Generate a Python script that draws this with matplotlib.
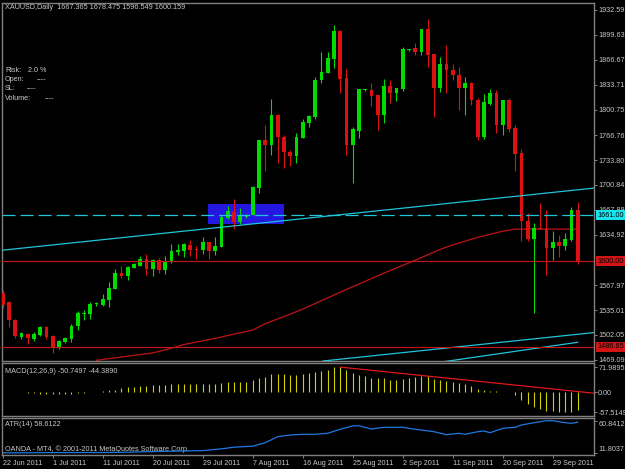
import numpy as np
import matplotlib
matplotlib.use('Agg')
import matplotlib.pyplot as plt
from matplotlib.patches import Rectangle

plt.rcParams['font.family'] = ['Liberation Sans', 'DejaVu Sans']
plt.rcParams['lines.scale_dashes'] = False

# ---------------- data ----------------
opens = [1557.7, 1546.2, 1521.9, 1499.8, 1503.4, 1496.8, 1502.1, 1513.1, 1500.7, 1484.5,
         1492.4, 1496.4, 1514.4, 1529.9, 1529.9, 1543.0, 1541.8, 1548.4, 1563.4, 1584.6,
         1580.6, 1591.2, 1593.9, 1602.7, 1589.5, 1601.4, 1588.2, 1598.4, 1612.4, 1613.3,
         1621.3, 1614.9, 1614.7, 1625.7, 1613.3, 1619.0, 1656.7, 1665.4, 1651.4, 1658.8,
         1661.0, 1697.2, 1760.4, 1753.8, 1793.5, 1764.8, 1744.9, 1739.6, 1763.4, 1782.9,
         1790.9, 1839.9, 1849.1, 1867.7, 1904.8, 1842.5, 1753.8, 1772.3, 1826.4, 1826.6,
         1820.0, 1793.5, 1831.9, 1822.6, 1827.9, 1879.4, 1882.3, 1877.0, 1907.4, 1874.3,
         1829.3, 1861.1, 1853.1, 1846.5, 1829.3, 1835.9, 1813.4, 1764.4, 1808.1, 1822.6,
         1780.3, 1813.4, 1776.3, 1743.2, 1653.1, 1629.2, 1643.5, 1642.5, 1616.9, 1625.7,
         1620.4, 1627.9, 1667.365]
highs = [1561.7, 1547.0, 1523.3, 1506.4, 1504.3, 1505.6, 1514.0, 1514.0, 1502.1, 1495.4,
         1499.0, 1516.6, 1533.9, 1535.2, 1546.2, 1545.4, 1556.4, 1572.7, 1589.5, 1593.9,
         1593.9, 1597.1, 1607.1, 1609.4, 1602.7, 1604.5, 1607.1, 1622.6, 1622.2, 1623.5,
         1627.9, 1620.0, 1632.3, 1626.6, 1632.3, 1661.0, 1673.0, 1682.2, 1669.9, 1662.0,
         1699.5, 1760.4, 1780.3, 1814.7, 1794.8, 1767.0, 1747.1, 1769.3, 1788.2, 1793.5,
         1843.8, 1877.0, 1877.0, 1912.7, 1905.5, 1854.4, 1777.6, 1828.5, 1827.9, 1835.9,
         1820.5, 1841.2, 1839.9, 1829.8, 1883.6, 1880.3, 1888.9, 1907.9, 1920.7, 1874.8,
         1870.3, 1886.2, 1861.1, 1857.1, 1843.8, 1837.2, 1816.0, 1821.3, 1827.9, 1826.6,
         1813.9, 1816.0, 1780.3, 1748.5, 1663.7, 1650.4, 1676.9, 1667.7, 1640.2, 1634.5,
         1636.8, 1672.0, 1678.475]
lows = [1537.8, 1513.1, 1497.7, 1496.8, 1490.1, 1494.5, 1500.7, 1496.8, 1477.8, 1483.5,
        1491.9, 1493.2, 1508.7, 1521.9, 1523.3, 1540.5, 1540.5, 1539.6, 1563.4, 1577.2,
        1574.9, 1591.2, 1593.9, 1581.5, 1580.6, 1583.8, 1582.5, 1597.1, 1608.0, 1605.8,
        1607.1, 1602.7, 1609.4, 1602.7, 1608.0, 1619.0, 1655.3, 1642.1, 1648.7, 1657.5,
        1661.0, 1690.6, 1719.7, 1740.5, 1730.3, 1722.9, 1726.3, 1730.3, 1762.6, 1777.6,
        1788.2, 1835.9, 1849.1, 1855.8, 1822.6, 1740.5, 1703.4, 1763.0, 1825.3, 1805.4,
        1773.6, 1782.9, 1809.4, 1812.0, 1825.3, 1878.9, 1873.0, 1873.0, 1857.1, 1790.9,
        1824.0, 1822.6, 1839.9, 1800.1, 1793.5, 1806.8, 1760.4, 1761.7, 1806.8, 1769.7,
        1767.0, 1771.0, 1719.3, 1626.6, 1626.6, 1531.2, 1641.8, 1581.5, 1601.4, 1605.0,
        1614.7, 1627.0, 1596.549]
closes = [1541.8, 1521.9, 1500.7, 1504.3, 1497.7, 1503.0, 1513.1, 1499.8, 1485.2, 1494.1,
          1497.7, 1514.4, 1530.8, 1531.6, 1543.1, 1543.3, 1549.8, 1564.7, 1584.6, 1580.6,
          1592.5, 1595.7, 1602.7, 1589.5, 1601.4, 1588.2, 1600.1, 1613.3, 1614.7, 1622.2,
          1614.7, 1614.5, 1625.7, 1613.3, 1620.0, 1658.0, 1666.3, 1651.4, 1661.0, 1661.0,
          1698.5, 1760.4, 1753.8, 1793.5, 1764.8, 1744.1, 1739.6, 1764.8, 1784.2, 1792.2,
          1839.9, 1850.5, 1869.0, 1904.8, 1841.2, 1753.8, 1775.0, 1827.9, 1826.8, 1818.7,
          1793.5, 1831.9, 1822.6, 1829.3, 1880.9, 1879.8, 1877.0, 1907.4, 1873.0, 1829.3,
          1861.1, 1853.1, 1846.5, 1829.3, 1835.9, 1813.4, 1764.4, 1810.7, 1822.6, 1780.3,
          1813.4, 1775.0, 1741.8, 1653.1, 1629.2, 1643.8, 1642.5, 1617.3, 1625.7, 1620.4,
          1629.2, 1667.7, 1600.159]

# moving average (read at selected bars)
ma_bars = [15, 24, 27, 29, 34, 37, 40, 42, 45, 48, 51, 56, 61, 66, 70, 72, 76, 80, 82, 92]
ma_values = [1468.5, 1478.3, 1484.5, 1489.5, 1497.5, 1503.2, 1508.5, 1517.0, 1526.5, 1536.3,
             1547.5, 1566.0, 1584.0, 1601.0, 1615.5, 1621.3, 1631.5, 1639.5, 1642.3, 1642.3]

macd_hist = [1.0, 0.5, 0.3, -0.5, -1.5, -2.5, -3.5, -4.0, -5.0, -6.0,
             -5.5, -4.5, -3.0, -1.5, -0.5, 0.3, 3.8, 5.7, 7.6, 12.4,
             14.3, 16.2, 18.1, 19.1, 20.0, 21.0, 21.9, 22.9, 23.8, 24.8,
             23.8, 23.8, 23.8, 24.8, 23.8, 26.7, 28.6, 28.6, 28.6, 29.5,
             35.3, 40.0, 44.8, 51.5, 53.4, 53.4, 49.6, 49.6, 51.5, 54.3,
             58.1, 61.9, 64.8, 71.5, 71.9895, 64.8, 55.3, 50.5, 45.7, 41.0,
             41.0, 41.0, 36.2, 36.2, 39.1, 41.0, 42.9, 45.7, 45.7, 39.1,
             36.2, 33.4, 29.5, 26.7, 23.8, 17.2, 9.5, 7.6, 4.8, 2.9,
             1.9, -0.5, -6.7, -21.0, -32.4, -42.9, -46.7, -52.4, -54.3, -56.2,
             -57.5149, -55.0, -50.7497]
macd_signal_last = -44.3890

atr_bars = [0, 8, 16, 20, 26, 32, 35, 37, 40, 42, 44, 46, 48, 50, 52, 54, 56, 57, 59, 61,
            64, 66, 69, 71, 73, 74, 76, 77, 78, 80, 82, 83, 85, 87, 88, 90, 91, 92]
atr_values = [12.5, 12.8, 13.0, 13.5, 14.8, 15.8, 18.5, 21.0, 22.5, 27.7, 36.8, 39.3, 40.4,
              40.4, 41.9, 47.9, 52.9, 53.3, 48.3, 50.9, 50.9, 47.9, 44.3, 39.8, 41.9, 40.4,
              44.3, 45.3, 42.8, 49.4, 50.9, 54.4, 57.8, 60.8412, 60.8, 57.8, 56.9, 58.6122]

# objects on the chart (bar index, price)
trend_up = [(0, 1614.4), (92, 1694.4)]
channel_low = [(60, 1475.2), (92, 1503.0)]
segment_low = [(70, 1466.0), (92, 1492.4)]
hline_dashed = 1661.00
hline_red = [1600.00, 1486.65]
rect_bars = (32.9, 45.0)
rect_prices = (1648.7, 1675.2)
macd_trend = [(54, 72.0), (92, 2.2)]

price_ticks = [1932.59, 1899.63, 1866.67, 1833.71, 1800.75, 1766.76, 1733.80, 1700.84,
               1667.88, 1634.92, 1567.97, 1535.01, 1502.05, 1469.09]
macd_ticks = [71.9895, 0.00, -57.5149]
macd_tick_labels = ['71.9895', '0.00', '-57.5149']
atr_ticks = [11.8037, 60.8412]
date_labels = ['22 Jun 2011', '1 Jul 2011', '11 Jul 2011', '20 Jul 2011', '29 Jul 2011',
               '7 Aug 2011', '16 Aug 2011', '25 Aug 2011', '2 Sep 2011', '11 Sep 2011',
               '20 Sep 2011', '29 Sep 2011']
label_every = 8

# ---------------- style ----------------
W, H = 625, 469
BG = '#000000'
FG = '#C8C8C8'
GRID = '#808080'
BULL = '#00DC00'
BEAR = '#DC1212'
CYAN = '#22C4DA'
FS = 5.2

fig = plt.figure(figsize=(W / 100, H / 100), dpi=100, facecolor=BG)


def box(x0, y0, x1, y1):
    return [x0 / W, 1 - y1 / H, (x1 - x0) / W, (y1 - y0) / H]


ax = fig.add_axes(box(2, 2.5, 593.5, 361))
axm = fig.add_axes(box(2, 362.5, 593.5, 416))
axa = fig.add_axes(box(2, 418, 593.5, 455))

n = len(opens)
xs = np.arange(n)
xlim = (-0.11, 94.53)

for a in (ax, axm, axa):
    a.set_facecolor(BG)
    a.set_xlim(*xlim)
    for s in a.spines.values():
        s.set_color(GRID)
        s.set_linewidth(1.0)
    a.yaxis.tick_right()
    a.tick_params(axis='y', direction='out', length=2.2, width=0.7, color=GRID,
                  labelcolor=FG, labelsize=FS, pad=1.2)
    a.tick_params(axis='x', bottom=False, labelbottom=False)

# ---------------- main chart ----------------
ax.set_ylim(1467.6, 1942.5)
ax.set_yticks(price_ticks)
ax.set_yticklabels(['%.2f' % v for v in price_ticks])

ax.add_patch(Rectangle((rect_bars[0], rect_prices[0]), rect_bars[1] - rect_bars[0],
                       rect_prices[1] - rect_prices[0], facecolor='#2418E0',
                       edgecolor='none', zorder=1))

o = np.array(opens); c = np.array(closes); hi = np.array(highs); lo = np.array(lows)
cols = np.where(c >= o, BULL, BEAR)
ax.vlines(xs, lo, hi, colors=cols, linewidth=0.8, zorder=3)
body_lo = np.minimum(o, c)
body_h = np.maximum(np.abs(c - o), 1.3)
ax.bar(xs, body_h, bottom=body_lo, width=0.62, color=cols, edgecolor='none', zorder=4)

ax.plot(ma_bars, ma_values, color='#C01414', linewidth=0.9, zorder=2)

ax.axline(trend_up[0], trend_up[1], color=CYAN, linewidth=0.9, zorder=5)
ax.axline(channel_low[0], channel_low[1], color=CYAN, linewidth=0.9, zorder=5)
ax.plot([segment_low[0][0], segment_low[1][0]], [segment_low[0][1], segment_low[1][1]],
        color=CYAN, linewidth=0.9, zorder=5)
ax.axhline(hline_dashed, color=CYAN, linewidth=0.9, dashes=(9.4, 3.6), zorder=5)
for p in hline_red:
    ax.axhline(p, color='#C81414', linewidth=0.8, zorder=5)


def price_y(p):
    y0, y1 = ax.get_ylim()
    pos = ax.get_position()
    return pos.y0 + (p - y0) / (y1 - y0) * pos.height


fig.text(597 / W, price_y(hline_dashed), '%.2f' % hline_dashed, fontsize=FS, color='black',
         va='center', ha='left', zorder=10,
         bbox=dict(boxstyle='square,pad=0.2', facecolor='#18E4F0', edgecolor='none'))
for p in hline_red:
    fig.text(597 / W, price_y(p), '%.2f' % p, fontsize=FS, color='black',
             va='center', ha='left', zorder=10,
             bbox=dict(boxstyle='square,pad=0.2', facecolor='#D21414', edgecolor='none'))

fig.text(5 / W, 1 - 7.7 / H,
         'XAUUSD,Daily  %.3f %.3f %.3f %.3f' % (opens[-1], highs[-1], lows[-1], closes[-1]),
         fontsize=FS, color=FG, va='center', ha='left')
info = [('Risk:', '2.0 %', 70, 28), ('Open:', '----', 79.3, 37),
        ('SL:', '----', 88.7, 27), ('Volume:', '----', 98.3, 45)]
for lab, val, yy, xv in info:
    fig.text(5 / W, 1 - yy / H, lab, fontsize=FS, color=FG, va='center', ha='left')
    fig.text(xv / W, 1 - yy / H, val, fontsize=FS, color=FG, va='center', ha='left')

# ---------------- MACD ----------------
axm.set_ylim(-67.8, 85.2)
axm.vlines(xs, 0, macd_hist, colors='#D2D200', linewidth=0.8)
(tx0, ty0), (tx1, ty1) = macd_trend
slope = (ty1 - ty0) / (tx1 - tx0)
xe = xlim[1] + 1
axm.plot([tx0, xe], [ty0, ty0 + slope * (xe - tx0)], color='#E01818', linewidth=0.9)
axm.set_yticks(macd_ticks)
axm.set_yticklabels(macd_tick_labels)
axm.text(0.005, 0.84, 'MACD(12,26,9) %.4f %.4f' % (macd_hist[-1], macd_signal_last),
         transform=axm.transAxes, fontsize=FS, color=FG, va='center', ha='left')

# ---------------- ATR ----------------
axa.set_ylim(9.24, 64.9)
axa.plot(atr_bars, atr_values, color='#1E78E0', linewidth=0.9)
axa.set_yticks(atr_ticks)
axa.set_yticklabels(['%.4f' % v for v in atr_ticks])
ticks = axa.yaxis.get_major_ticks()
ticks[0].label2.set_va('bottom')
ticks[1].label2.set_va('top')
axa.text(0.005, 0.82, 'ATR(14) %.4f' % atr_values[-1], transform=axa.transAxes,
         fontsize=FS, color=FG, va='center', ha='left')
axa.text(0.005, 0.16, 'OANDA - MT4, \u00a9 2001-2011 MetaQuotes Software Corp.',
         transform=axa.transAxes, fontsize=FS, color=FG, va='center', ha='left', zorder=0)

label_pos = np.arange(len(date_labels)) * label_every
axa.set_xticks(label_pos)
axa.set_xticklabels(date_labels)
axa.tick_params(axis='x', bottom=True, labelbottom=True, direction='out', length=2.2,
                width=0.7, color=GRID, labelcolor=FG, labelsize=FS, pad=1.5)
for t in axa.get_xticklabels():
    t.set_ha('left')

fig.savefig('out.png', dpi=100, facecolor=BG)
